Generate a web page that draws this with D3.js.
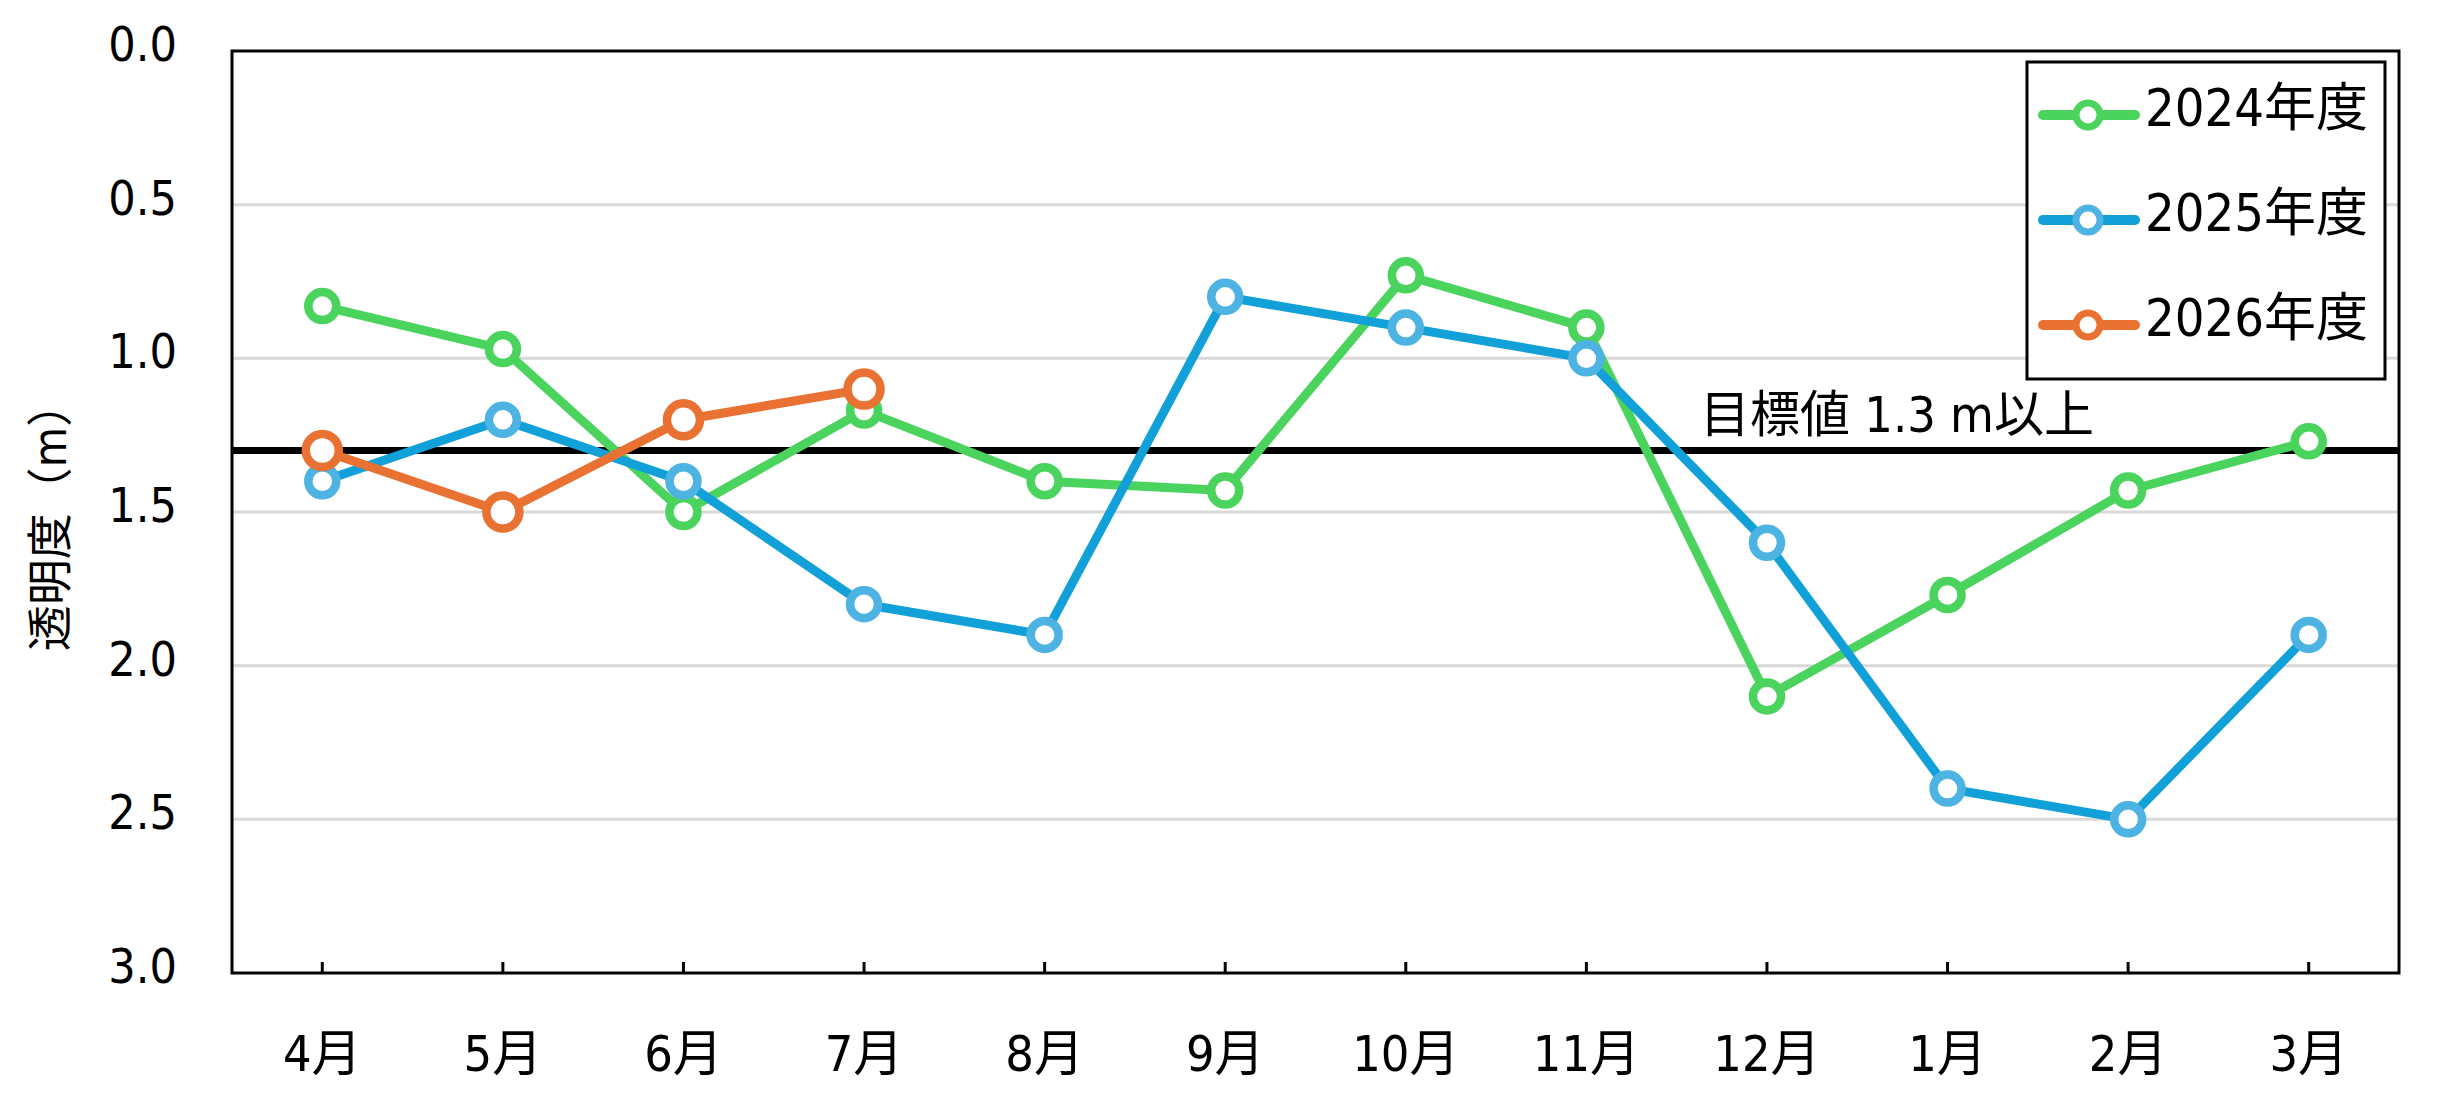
<!DOCTYPE html>
<html>
<head>
<meta charset="utf-8">
<script src="https://cdn.jsdelivr.net/npm/d3@7"></script>
<style>
  body { margin: 0; background: #fff; }
  svg text { font-family: "DejaVu Sans Condensed", "DejaVu Sans", "Noto Sans CJK JP", sans-serif; font-stretch: condensed; fill: #000; }
</style>
</head>
<body>
<div id="chart"></div>
<script>
// month labels (fiscal year, April start)
var months = ["4月", "5月", "6月", "7月", "8月", "9月", "10月", "11月", "12月", "1月", "2月", "3月"];

// transparency (m) per fiscal year
var fy2024 = [0.83, 0.97, 1.50, 1.17, 1.40, 1.43, 0.73, 0.90, 2.10, 1.77, 1.43, 1.27];
var fy2025 = [1.40, 1.20, 1.40, 1.80, 1.90, 0.80, 0.90, 1.00, 1.60, 2.40, 2.50, 1.90];
var fy2026 = [1.30, 1.50, 1.20, 1.10];

var seriesNames = ["2024年度", "2025年度", "2026年度"];
var yTicks = [0.0, 0.5, 1.0, 1.5, 2.0, 2.5, 3.0];
var target = 1.3;
var targetLabel = "目標値 1.3 m以上";
var yTitle = "透明度（m）";

var width = 2449, height = 1113;
var margin = {top: 51, right: 50, bottom: 140, left: 232};
var plotW = width - margin.left - margin.right,
    plotH = height - margin.top - margin.bottom;

var svg = d3.select("#chart")
  .append("svg")
    .attr("width", width)
    .attr("height", height);

var plot = svg.append("g")
    .attr("transform", "translate(" + margin.left + "," + margin.top + ")");

var x = d3.scaleBand()
    .domain(months)
    .range([0, plotW])
    .padding(0);

// depth axis: 0 at the top, growing downward
var y = d3.scaleLinear()
    .domain([0, 3])
    .range([0, plotH]);

var cx = function(m) { return x(m) + x.bandwidth() / 2; };

// gridlines
plot.append("g")
  .selectAll("line")
  .data(yTicks.filter(function(d) { return d > 0 && d < 3; }))
  .enter()
  .append("line")
    .attr("x1", 0)
    .attr("x2", plotW)
    .attr("y1", function(d) { return y(d); })
    .attr("y2", function(d) { return y(d); })
    .attr("stroke", "#d9d9d9")
    .attr("stroke-width", 3);

// y tick labels
plot.append("g")
  .selectAll("text")
  .data(yTicks)
  .enter()
  .append("text")
    .attr("x", -55)
    .attr("y", function(d) { return y(d) + 10; })
    .attr("text-anchor", "end")
    .style("font-size", "48px")
    .text(function(d) { return d3.format(".1f")(d); });

// y title
svg.append("text")
    .attr("transform", "translate(50," + 516 + ") rotate(-90)")
    .attr("text-anchor", "middle")
    .attr("dominant-baseline", "central")
    .style("font-size", "46px")
    .text(yTitle);

// x axis with inward ticks
var xAxis = plot.append("g")
    .attr("transform", "translate(0," + plotH + ")")
    .call(d3.axisBottom(x).tickSizeInner(-11).tickSizeOuter(0).tickPadding(0));
xAxis.select(".domain").remove();
xAxis.selectAll(".tick line")
    .attr("stroke", "#000")
    .attr("stroke-width", 3);
xAxis.selectAll(".tick text")
    .attr("y", 98)
    .attr("dy", null)
    .style("font-size", "50px");

// frame
plot.append("rect")
    .attr("x", 0)
    .attr("y", 0)
    .attr("width", plotW)
    .attr("height", plotH)
    .attr("fill", "none")
    .attr("stroke", "#000")
    .attr("stroke-width", 3);

// target line
plot.append("line")
    .attr("x1", 0)
    .attr("x2", plotW)
    .attr("y1", y(target))
    .attr("y2", y(target))
    .attr("stroke", "#000")
    .attr("stroke-width", 7);

plot.append("text")
    .attr("x", 1700 - margin.left)
    .attr("y", y(target) - 19)
    .style("font-size", "50px")
    .text(targetLabel);

// series
var series = [
  {name: seriesNames[0], values: fy2024, line: "#4ad35d", mark: "#4ad35d", r: 14},
  {name: seriesNames[1], values: fy2025, line: "#11a0d7", mark: "#4db3e2", r: 14},
  {name: seriesNames[2], values: fy2026, line: "#e97132", mark: "#e97132", r: 16.5}
];

var line = d3.line()
    .x(function(d, i) { return cx(months[i]); })
    .y(function(d) { return y(d); });

series.forEach(function(s) {
  var g = plot.append("g");
  g.append("path")
      .datum(s.values)
      .attr("fill", "none")
      .attr("stroke", s.line)
      .attr("stroke-width", 9)
      .attr("stroke-linejoin", "round")
      .attr("d", line);
  g.selectAll("circle")
    .data(s.values)
    .enter()
    .append("circle")
      .attr("cx", function(d, i) { return cx(months[i]); })
      .attr("cy", function(d) { return y(d); })
      .attr("r", s.r)
      .attr("fill", "#fff")
      .attr("stroke", s.mark)
      .attr("stroke-width", 8.5);
});

// legend
var legend = svg.append("g")
    .attr("transform", "translate(2027,62)");
legend.append("rect")
    .attr("width", 358)
    .attr("height", 317)
    .attr("fill", "#fff")
    .attr("stroke", "#000")
    .attr("stroke-width", 3);

var item = legend.selectAll(".item")
  .data(series)
  .enter()
  .append("g")
    .attr("class", "item")
    .attr("transform", function(d, i) { return "translate(0," + (53 + i * 105) + ")"; });
item.append("line")
    .attr("x1", 16)
    .attr("x2", 108)
    .attr("stroke", function(d) { return d.line; })
    .attr("stroke-width", 10)
    .attr("stroke-linecap", "round");
item.append("circle")
    .attr("cx", 61)
    .attr("r", 12)
    .attr("fill", "#fff")
    .attr("stroke", function(d) { return d.mark; })
    .attr("stroke-width", 7);
item.append("text")
    .attr("x", 118)
    .attr("y", 11)
    .style("font-size", "52px")
    .text(function(d) { return d.name; });
</script>
</body>
</html>
